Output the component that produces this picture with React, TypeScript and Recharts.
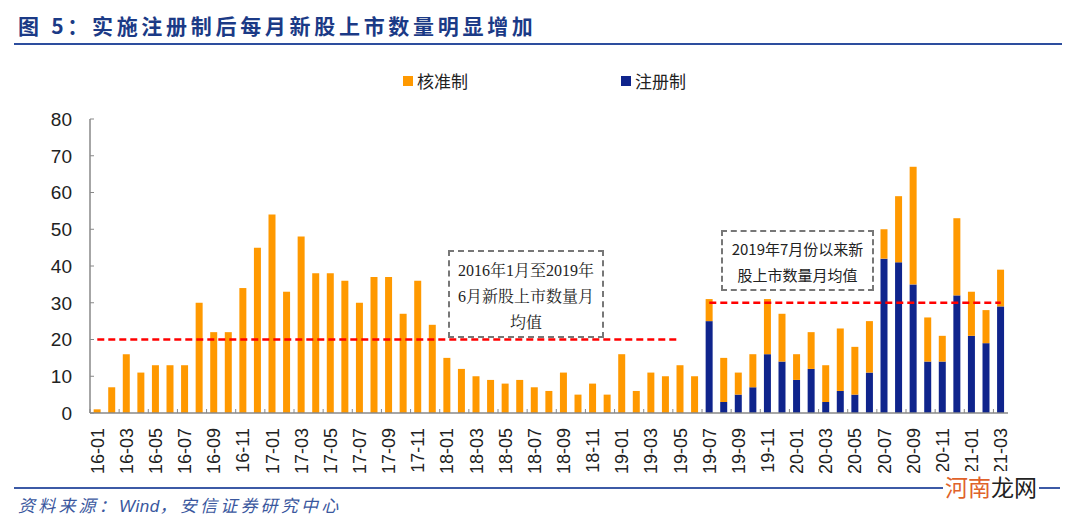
import { BarChart, Bar, XAxis, YAxis, ReferenceLine, Legend } from "recharts";

const months = [
  "16-01", "16-02", "16-03", "16-04", "16-05", "16-06", "16-07", "16-08", "16-09", "16-10", "16-11", "16-12",
  "17-01", "17-02", "17-03", "17-04", "17-05", "17-06", "17-07", "17-08", "17-09", "17-10", "17-11", "17-12",
  "18-01", "18-02", "18-03", "18-04", "18-05", "18-06", "18-07", "18-08", "18-09", "18-10", "18-11", "18-12",
  "19-01", "19-02", "19-03", "19-04", "19-05", "19-06", "19-07", "19-08", "19-09", "19-10", "19-11", "19-12",
  "20-01", "20-02", "20-03", "20-04", "20-05", "20-06", "20-07", "20-08", "20-09", "20-10", "20-11", "20-12",
  "21-01", "21-02", "21-03",
];

// 核准制 (approval system)
const approval = [
  1, 7, 16, 11, 13, 13, 13, 30, 22, 22, 34, 45,
  54, 33, 48, 38, 38, 36, 30, 37, 37, 27, 36, 24,
  15, 12, 10, 9, 8, 9, 7, 6, 11, 5, 8, 5,
  16, 6, 11, 10, 13, 10, 6, 12, 6, 9, 15, 13,
  7, 10, 10, 17, 13, 14, 8, 18, 32, 12, 7, 21,
  12, 9, 10,
];

// 注册制 (registration system)
const registration = [
  0, 0, 0, 0, 0, 0, 0, 0, 0, 0, 0, 0,
  0, 0, 0, 0, 0, 0, 0, 0, 0, 0, 0, 0,
  0, 0, 0, 0, 0, 0, 0, 0, 0, 0, 0, 0,
  0, 0, 0, 0, 0, 0, 25, 3, 5, 7, 16, 14,
  9, 12, 3, 6, 5, 11, 42, 41, 35, 14, 14, 32,
  21, 19, 29,
];

const yTicks = [0, 10, 20, 30, 40, 50, 60, 70, 80];
const avgBefore = 20;
const avgAfter = 30;

const data = months.map((m, i) => ({ month: m, approval: approval[i], registration: registration[i] }));

const ORANGE = "#FF9900";
const BLUE = "#0F248C";
const AXIS = "#888888";
const PLOT_LEFT = 90;
const PLOT_RIGHT = 1008;
const BAND = (PLOT_RIGHT - PLOT_LEFT) / months.length;

const XTick = (props: any) => {
  const { x, y, payload } = props;
  return (
    <g>
      <line x1={x - BAND / 2} x2={x - BAND / 2} y1={y} y2={y - 4} stroke={AXIS} strokeWidth={1} />
      <text
        transform={`translate(${x},${y + 15}) rotate(-90)`}
        textAnchor="end"
        dy="0.36em"
        fontSize={18}
        fontFamily="'Liberation Sans', Arial, sans-serif"
        fill="#222"
      >
        {payload.value}
      </text>
    </g>
  );
};

const YTick = (props: any) => {
  const { x, y, payload } = props;
  return (
    <g>
      <line x1={x} x2={x + 4} y1={y} y2={y} stroke={AXIS} strokeWidth={1} />
      <text
        x={x - 18}
        y={y}
        textAnchor="end"
        dy="0.36em"
        fontSize={19}
        fontFamily="'Liberation Sans', Arial, sans-serif"
        fill="#222"
      >
        {payload.value}
      </text>
    </g>
  );
};

const LegendContent = () => (
  <div style={{ position: "relative", height: 24, fontFamily: "'Noto Sans CJK SC', sans-serif", fontSize: 17, color: "#222" }}>
    <div style={{ position: "absolute", left: 403, top: 3, display: "flex", alignItems: "center" }}>
      <span style={{ width: 10, height: 10, background: ORANGE, display: "inline-block", marginRight: 4 }} />
      核准制
    </div>
    <div style={{ position: "absolute", left: 621, top: 3, display: "flex", alignItems: "center" }}>
      <span style={{ width: 10, height: 10, background: BLUE, display: "inline-block", marginRight: 4 }} />
      注册制
    </div>
  </div>
);

const boxStyle: any = {
  position: "absolute",
  border: "2px dashed #777",
  background: "#fff",
  color: "#222",
  textAlign: "center",
  boxSizing: "border-box",
};

export default function App() {
  return (
    <div style={{ position: "absolute", left: 0, top: 0, width: 1080, height: 522, background: "#fff", overflow: "hidden" }}>
      <div
        style={{
          position: "absolute",
          left: 18,
          top: 11,
          fontFamily: "'Noto Sans CJK SC', sans-serif",
          fontWeight: 700,
          fontSize: 21,
          letterSpacing: 3.7,
          color: "#1B3A86",
          whiteSpace: "nowrap",
          lineHeight: "28px",
        }}
      >
        图 5：实施注册制后每月新股上市数量明显增加
      </div>
      <div style={{ position: "absolute", left: 14, top: 43, width: 1048, height: 2, background: "#2D4E9E" }} />

      <BarChart
        width={1080}
        height={522}
        data={data}
        margin={{ top: 119, right: 72, bottom: 0, left: 0 }}
        barCategoryGap="25%"
        style={{ position: "absolute", left: 0, top: 0 }}
      >
        <XAxis
          dataKey="month"
          interval={1}
          height={109}
          tickSize={0}
          tickMargin={0}
          tickLine={false}
          axisLine={{ stroke: AXIS, strokeWidth: 1.5 }}
          tick={<XTick />}
        />
        <YAxis
          width={90}
          domain={[0, 80]}
          ticks={yTicks}
          interval={0}
          tickSize={0}
          tickMargin={0}
          tickLine={false}
          axisLine={{ stroke: AXIS, strokeWidth: 1.5 }}
          tick={<YTick />}
        />
        <Legend
          verticalAlign="middle"
          content={<LegendContent />}
          wrapperStyle={{ top: 65, left: 0, width: 1080 }}
        />
        <Bar dataKey="registration" name="注册制" stackId="a" fill={BLUE} isAnimationActive={false} />
        <Bar dataKey="approval" name="核准制" stackId="a" fill={ORANGE} isAnimationActive={false} />
        <ReferenceLine
          segment={[{ x: "16-01", y: avgBefore }, { x: "19-05", y: avgBefore }]}
          stroke="#FF0000"
          strokeWidth={2.5}
          strokeDasharray="7 4"
        />
        <ReferenceLine
          segment={[{ x: "19-07", y: avgAfter }, { x: "21-03", y: avgAfter }]}
          stroke="#FF0000"
          strokeWidth={2.5}
          strokeDasharray="7 4"
        />
      </BarChart>

      <div
        style={{
          ...boxStyle,
          left: 448,
          top: 250,
          width: 156,
          height: 88,
          paddingTop: 6,
          fontFamily: "'Liberation Serif', 'Noto Serif CJK SC', 'Noto Sans CJK SC', serif",
          fontSize: 16,
          lineHeight: "26px",
        }}
      >
        2016年1月至2019年
        <br />
        6月新股上市数量月
        <br />
        均值
      </div>
      <div
        style={{
          ...boxStyle,
          left: 721,
          top: 230,
          width: 153,
          height: 61,
          paddingTop: 4,
          fontFamily: "'Noto Sans CJK SC', sans-serif",
          fontSize: 15,
          lineHeight: "26px",
        }}
      >
        2019年7月份以来新
        <br />
        股上市数量月均值
      </div>

      <div style={{ position: "absolute", left: 14, top: 487, width: 1046, height: 1.5, background: "#3C5AA6" }} />
      <div
        style={{
          position: "absolute",
          left: 18,
          top: 494,
          fontFamily: "'Noto Sans CJK SC', sans-serif",
          fontStyle: "italic",
          fontSize: 17,
          letterSpacing: 3.2,
          color: "#3A579E",
          whiteSpace: "nowrap",
          lineHeight: "22px",
        }}
      >
        资料来源：<span style={{ fontFamily: "'Liberation Sans', Arial, sans-serif", letterSpacing: 0.5 }}>Wind</span>，安信证券研究中心
      </div>
      <div
        style={{
          position: "absolute",
          left: 943,
          top: 471,
          padding: "0 2px",
          background: "#fff",
          fontFamily: "'Noto Sans CJK SC', sans-serif",
          fontSize: 23,
          lineHeight: "30px",
          whiteSpace: "nowrap",
        }}
      >
        <span style={{ color: "#E0622A" }}>河南</span>
        <span style={{ color: "#222" }}>龙网</span>
      </div>
    </div>
  );
}
